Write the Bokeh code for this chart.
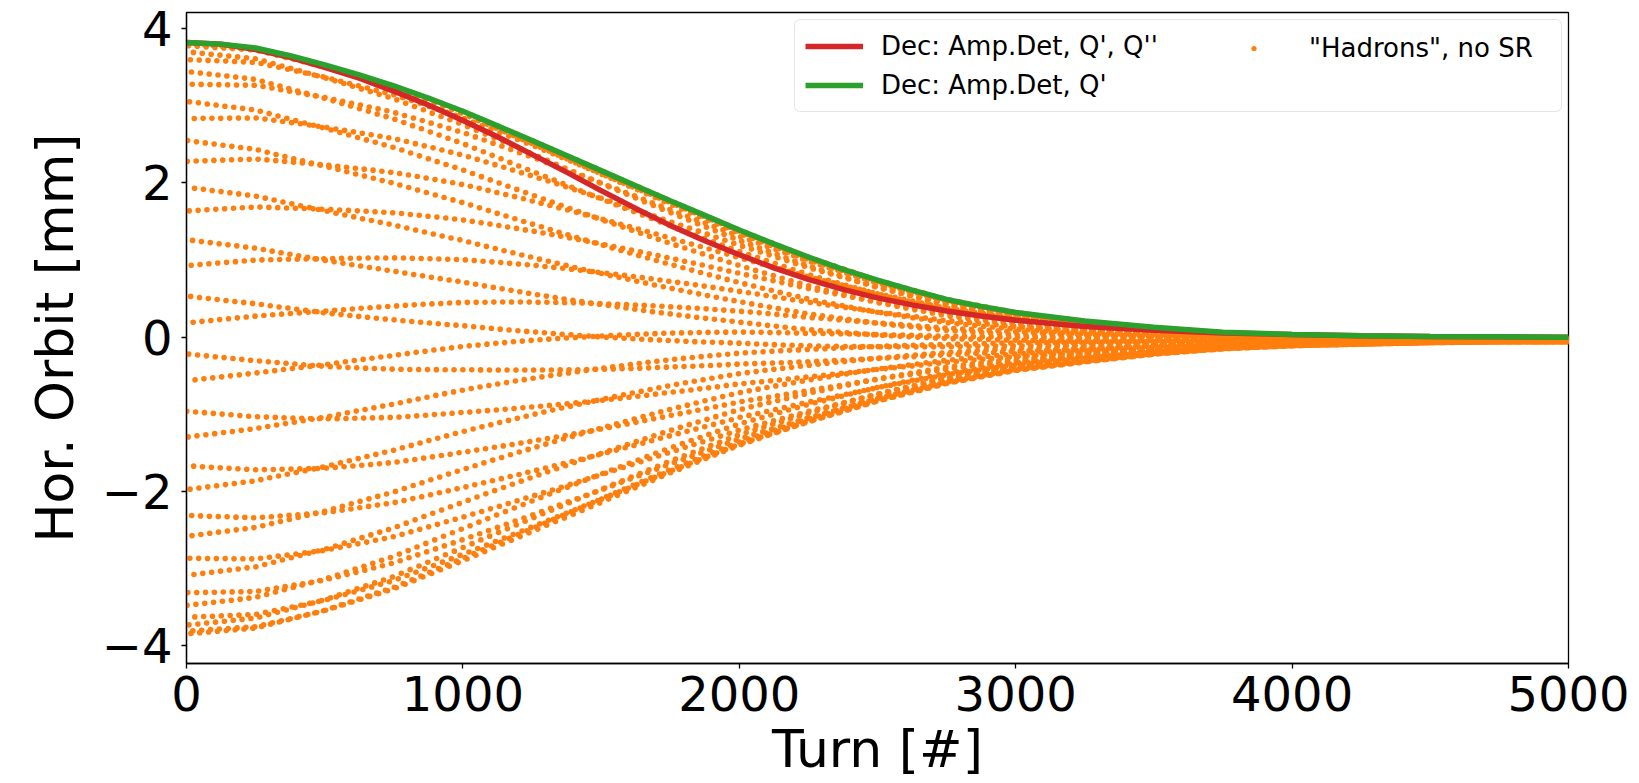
import numpy as np
from bokeh.plotting import figure
from bokeh.models import Range1d, FixedTicker, Legend, LegendItem, ColumnDataSource, Title
from bokeh.embed import file_html
from bokeh.resources import INLINE

# Decoherence envelopes (turn number -> amplitude in mm)
env_turns = [0, 125, 250, 375, 500, 625, 750, 875, 1000, 1125, 1250, 1375, 1500,
             1625, 1750, 1875, 2000, 2125, 2250, 2375, 2500, 2625, 2750, 2875, 3000,
             3250, 3500, 3750, 4000, 4250, 4500, 4750, 5000]
dec_amp_det_q1 = [3.82, 3.80, 3.75, 3.65, 3.53, 3.40, 3.26, 3.10, 2.93, 2.74, 2.55, 2.355, 2.16,
                  1.965, 1.77, 1.58, 1.39, 1.21, 1.04, 0.88, 0.74, 0.61, 0.49, 0.40, 0.32,
                  0.21, 0.13, 0.065, 0.035, 0.02, 0.01, 0.005, 0.0]
dec_amp_det_q1_q2 = [3.82, 3.80, 3.73, 3.63, 3.50, 3.36, 3.19, 3.01, 2.81, 2.60, 2.37, 2.14, 1.90,
                     1.67, 1.45, 1.25, 1.07, 0.90, 0.75, 0.62, 0.51, 0.42, 0.34, 0.275, 0.22,
                     0.14, 0.09, 0.055, 0.035, 0.02, 0.01, 0.005, 0.0]

# Upper / lower extent of the turn-by-turn centroid ("Hadrons", no SR)
hadron_turns = [0, 250, 500, 750, 1000, 1250, 1500, 1750, 2000, 2250, 2500,
                2750, 3000, 3250, 3500, 3750, 4000, 4250, 4500, 4750, 5000]
hadron_upper = [3.82, 3.75, 3.52, 3.26, 2.93, 2.55, 2.16, 1.77, 1.39, 1.04, 0.74,
                0.49, 0.32, 0.20, 0.12, 0.06, 0.02, 0.0, -0.01, -0.015, -0.02]
hadron_lower = [-3.85, -3.78, -3.56, -3.27, -2.90, -2.52, -2.14, -1.76, -1.40, -1.10, -0.83,
                -0.60, -0.43, -0.32, -0.22, -0.15, -0.11, -0.09, -0.07, -0.06, -0.06]

# Betatron tune (fractional part) and initial phase of the kicked bunch
n_turns = 5000
tune_frac = 9 / 32 + 1.556e-5
phase0_deg = 3.0

x_ticks = [0, 1000, 2000, 3000, 4000, 5000]
y_ticks = [-4, -2, 0, 2, 4]
y_tick_labels = {-4: "\u22124", -2: "\u22122", 0: "0", 2: "2", 4: "4"}

# Turn-by-turn centroid position
turns = np.arange(n_turns + 1)
up = np.interp(turns, hadron_turns, hadron_upper)
lo = np.interp(turns, hadron_turns, hadron_lower)
orbit = 0.5 * (up + lo) + 0.5 * (up - lo) * np.cos(
    2 * np.pi * tune_frac * turns + np.deg2rad(phase0_deg))

FONT = "DejaVu Sans"

p = figure(width=1639, height=783, output_backend="svg", toolbar_location=None,
           x_range=Range1d(0, 5000), y_range=Range1d(-4.23, 4.21),
           min_border_left=186, min_border_right=71, min_border_top=12,
           min_border_bottom=120)
p.background_fill_color = "white"
p.border_fill_color = "white"
p.outline_line_color = "black"
p.outline_line_width = 1.3
p.xgrid.visible = False
p.ygrid.visible = False

dots = p.scatter(turns, orbit, size=5.6, marker="circle",
                 fill_color="#ff7f0e", line_color=None)
src_env = ColumnDataSource(dict(t=env_turns, red=dec_amp_det_q1_q2, green=dec_amp_det_q1))
red = p.line("t", "red", source=src_env, line_color="#d62728", line_width=5.5)
green = p.line("t", "green", source=src_env, line_color="#2ca02c", line_width=5.5)

for ax in (p.xaxis[0], p.yaxis[0]):
    ax.axis_line_color = "black"
    ax.axis_line_width = 1.3
    ax.major_tick_line_color = "black"
    ax.major_tick_line_width = 1.3
    ax.major_tick_out = 5
    ax.major_tick_in = 0
    ax.minor_tick_line_color = None
    ax.major_label_text_font = FONT
    ax.major_label_text_font_size = "48px"
    ax.major_label_text_color = "black"
    ax.axis_label_text_font = FONT
    ax.axis_label_text_font_size = "52px"
    ax.axis_label_text_font_style = "normal"
    ax.axis_label_text_color = "black"

p.xaxis.ticker = FixedTicker(ticks=x_ticks)
p.yaxis.ticker = FixedTicker(ticks=y_ticks)
p.yaxis.major_label_overrides = y_tick_labels
p.yaxis.axis_label = "Hor. Orbit [mm]"
p.xaxis.major_label_standoff = 7
p.yaxis.major_label_standoff = 9
p.yaxis.axis_label_standoff = 14

# x-axis title, centred under the frame
p.add_layout(Title(text="Turn [#]", align="center", standoff=6,
                   text_font=FONT, text_font_size="52px", text_font_style="normal",
                   text_color="black"), "below")


def style_legend(lg, framed):
    lg.label_text_font = FONT
    lg.label_text_font_size = "26px"
    lg.label_text_color = "black"
    lg.padding = 10
    lg.spacing = 7
    lg.margin = 0
    lg.label_height = 32
    lg.glyph_height = 32
    if framed:
        lg.background_fill_color = "white"
        lg.background_fill_alpha = 0.8
        lg.border_line_color = "#cccccc"
        lg.border_line_width = 1.3
        if "border_radius" in lg.properties():
            lg.border_radius = 6
    else:
        lg.background_fill_alpha = 0
        lg.border_line_alpha = 0


legend_lines = Legend(items=[LegendItem(label="Dec: Amp.Det, Q', Q''", renderers=[red]),
                             LegendItem(label="Dec: Amp.Det, Q'", renderers=[green])],
                      location=(608, 551))
style_legend(legend_lines, True)
legend_lines.glyph_width = 58
legend_lines.label_standoff = 18
legend_lines.label_width = 670

legend_dots = Legend(items=[LegendItem(label='"Hadrons", no SR', renderers=[dots])],
                     location=(1051, 589))
style_legend(legend_dots, False)
legend_dots.glyph_width = 13
legend_dots.label_standoff = 49

p.add_layout(legend_lines)
p.add_layout(legend_dots)

open("out.html", "w").write(file_html(p, INLINE))
